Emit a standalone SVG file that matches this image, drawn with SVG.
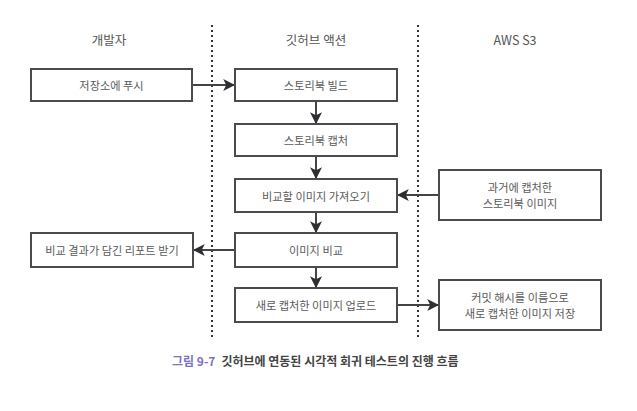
<svg xmlns="http://www.w3.org/2000/svg" width="637" height="411" viewBox="0 0 637 411">
<defs>
<style>
.box{fill:#fff;stroke:#4a4a4f;stroke-width:2}
.t{font-family:"Noto Sans CJK KR","Noto Sans",sans-serif;font-size:11.2px;fill:#5a5a5a;text-anchor:middle;dominant-baseline:central}
.h{font-family:"Noto Sans CJK KR","Noto Sans",sans-serif;font-size:12.5px;fill:#555;text-anchor:middle;dominant-baseline:central}
.lane{stroke:#333;stroke-width:2;stroke-dasharray:2 3;fill:none}
.c{stroke:#444;stroke-width:2;fill:none;marker-end:url(#ah)}
.cap{font-family:"Noto Sans CJK KR","Noto Sans",sans-serif;font-size:12px;font-weight:bold;dominant-baseline:central}
</style>
<marker id="ah" viewBox="0 0 10 10" refX="9" refY="5" markerWidth="6" markerHeight="6" orient="auto" markerUnits="strokeWidth">
<path d="M0,0 L10,5 L0,10 L2.5,5 Z" fill="#2e2e33"/>
</marker>
</defs>
<rect width="637" height="411" fill="#fff"/>
<g id="lanes">
<line class="lane" x1="212" y1="25" x2="212" y2="340"/>
<line class="lane" x1="418" y1="25" x2="418" y2="340"/>
<text class="h" x="109" y="39">개발자</text>
<text class="h" x="316" y="39">깃허브 액션</text>
<text class="h" x="515" y="39">AWS S3</text>
</g>
<g id="connectors">
<line class="c" x1="192" y1="85" x2="234" y2="85"/>
<line class="c" x1="316" y1="101" x2="316" y2="123"/>
<line class="c" x1="316" y1="156" x2="316" y2="178"/>
<line class="c" x1="439" y1="195" x2="398" y2="195"/>
<line class="c" x1="316" y1="212" x2="316" y2="232"/>
<line class="c" x1="235" y1="250" x2="194" y2="250"/>
<line class="c" x1="316" y1="267" x2="316" y2="287"/>
<line class="c" x1="397" y1="305" x2="438" y2="305"/>
</g>
<g id="push"><rect class="box" x="31" y="69" width="161" height="32"/><text class="t" x="111.5" y="85">저장소에 푸시</text></g>
<g id="build"><rect class="box" x="235" y="69" width="162" height="32"/><text class="t" x="316" y="85">스토리북 빌드</text></g>
<g id="capture"><rect class="box" x="235" y="124" width="162" height="32"/><text class="t" x="316" y="140">스토리북 캡처</text></g>
<g id="fetch"><rect class="box" x="235" y="179" width="162" height="33"/><text class="t" x="316" y="195.5">비교할 이미지 가져오기</text></g>
<g id="compare"><rect class="box" x="235" y="233" width="162" height="34"/><text class="t" x="316" y="250">이미지 비교</text></g>
<g id="upload"><rect class="box" x="235" y="288" width="162" height="34"/><text class="t" x="316" y="305">새로 캡처한 이미지 업로드</text></g>
<g id="report"><rect class="box" x="31" y="233" width="162" height="34"/><text class="t" x="112" y="250">비교 결과가 담긴 리포트 받기</text></g>
<g id="past"><rect class="box" x="439" y="170" width="162" height="50"/><text class="t" x="520" y="187">과거에 캡처한</text><text class="t" x="520" y="203">스토리북 이미지</text></g>
<g id="store"><rect class="box" x="439" y="280" width="162" height="50"/><text class="t" x="520" y="297">커밋 해시를 이름으로</text><text class="t" x="520" y="313">새로 캡처한 이미지 저장</text></g>
<g id="caption">
<text class="cap" x="172" y="360"><tspan fill="#7b72c0">그림 9-7</tspan><tspan fill="#444" dx="6">깃허브에 연동된 시각적 회귀 테스트의 진행 흐름</tspan></text>
</g>
</svg>
